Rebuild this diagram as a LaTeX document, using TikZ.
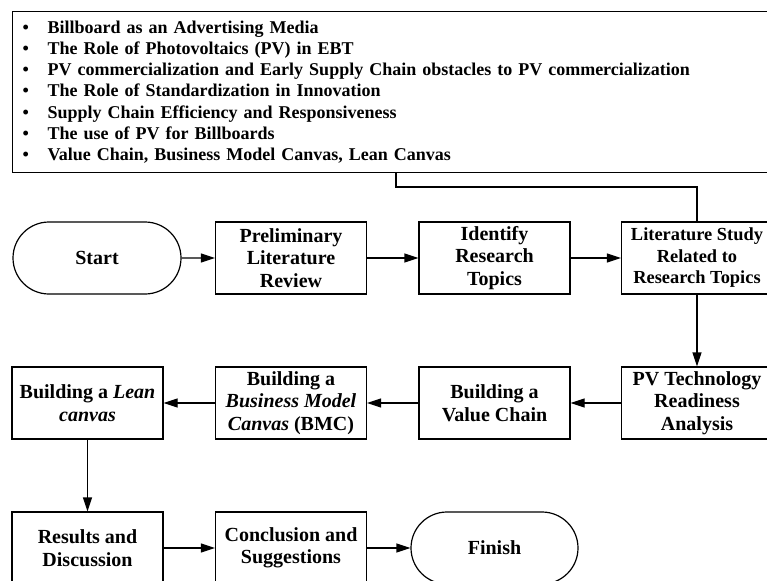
\documentclass[tikz,border=0pt]{standalone}
\usepackage{fontspec}
\setmainfont{Liberation Serif}
\usetikzlibrary{arrows.meta, shapes.misc}
\newcommand{\bulletline}[1]{\makebox[25pt][l]{\textbullet}#1}

\begin{document}
\begin{tikzpicture}[x=1pt, y=-1pt, line width=1.2pt,
    >={Triangle[length=14pt, width=9pt]},
    stepbox/.style={draw, minimum width=151, minimum height=72, align=center,
        inner sep=1pt, font=\fontsize{20}{22.5}\selectfont\bfseries},
    termbox/.style={stepbox, rounded rectangle, minimum width=170}]
            \clip (0,0) rectangle (767,580);
            \node[draw, anchor=north west, minimum width=780, minimum height=161,
                  text width=760, align=left, inner xsep=4pt, inner ysep=0pt,
                  font=\fontsize{18}{21.3}\selectfont\bfseries] (topics) at (12,11)
                {\bulletline{Billboard as an Advertising Media}\\
                 \bulletline{The Role of Photovoltaics (PV) in EBT}\\
                 \bulletline{PV commercialization and Early Supply Chain obstacles to PV commercialization}\\
                 \bulletline{The Role of Standardization in Innovation}\\
                 \bulletline{Supply Chain Efficiency and Responsiveness}\\
                 \bulletline{The use of PV for Billboards}\\
                 \bulletline{Value Chain, Business Model Canvas, Lean Canvas}};
            \node[termbox] (start) at (97,258) {Start};
            \node[stepbox] (prelim) at (291,258) {Preliminary\\Literature\\Review};
            \node[stepbox] (identify) at (494.5,258) {Identify\\Research\\Topics};
            \node[stepbox, font=\fontsize{18.4}{21.5}\selectfont\bfseries] (litstudy) at (697,258)
                {Literature Study\\Related to\\Research Topics};
            \node[stepbox] (pvtech) at (697,403) {PV Technology\\Readiness\\Analysis};
            \node[stepbox] (valuechain) at (494.5,403) {Building a\\Value Chain};
            \node[stepbox] (bmc) at (291,403) {Building a\\\textit{Business Model}\\\textit{Canvas} (BMC)};
            \node[stepbox] (lean) at (87.5,403) {Building a \textit{Lean}\\\textit{canvas}};
            \node[stepbox] (results) at (87.5,548) {Results and\\Discussion};
            \node[stepbox] (conclusion) at (291,548) {Conclusion and\\Suggestions};
            \node[termbox, minimum width=169] (finish) at (494.5,548) {Finish};
            \coordinate (drop) at (396,187);
            \draw (drop |- topics.south) -- (drop) -| (litstudy.north);
            \draw[->] (start) -- (prelim);
            \draw[->] (prelim) -- (identify);
            \draw[->] (identify) -- (litstudy);
            \draw[->] (litstudy) -- (pvtech);
            \draw[->] (pvtech) -- (valuechain);
            \draw[->] (valuechain) -- (bmc);
            \draw[->] (bmc) -- (lean);
            \draw[->] (lean) -- (results);
            \draw[->] (results) -- (conclusion);
            \draw[->] (conclusion) -- (finish);
        \end{tikzpicture}
\end{document}
